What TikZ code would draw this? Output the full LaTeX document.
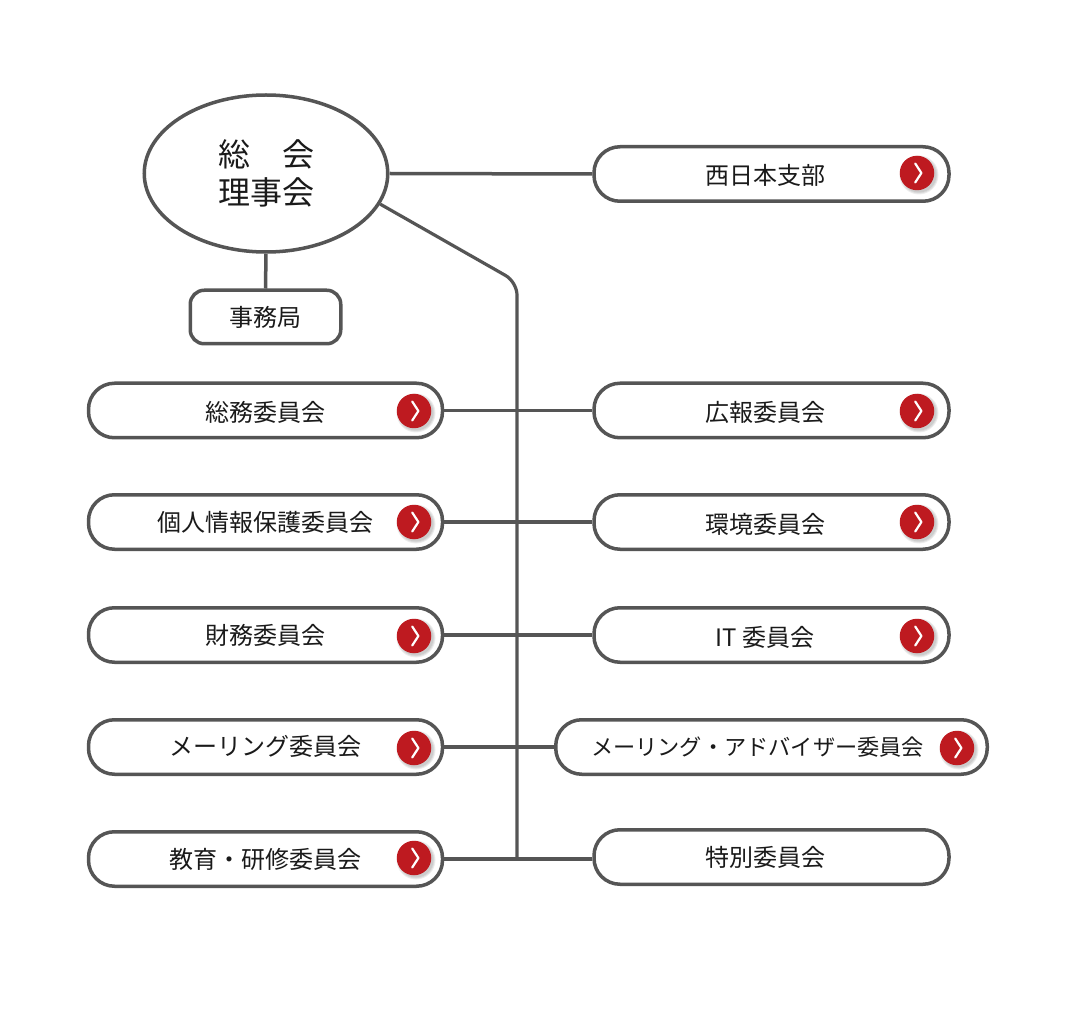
\documentclass[tikz,border=0pt]{standalone}
\usepackage{fontspec}
\setmainfont{Noto Sans CJK JP}
\definecolor{linegray}{HTML}{555555}
\definecolor{btnred}{HTML}{BE1A20}
\definecolor{txt}{HTML}{1A1A1A}
\tikzset{
  pill/.style={draw=linegray,line width=3.5pt,fill=white,rounded corners=26pt,minimum height=54.5pt,minimum width=354pt,inner sep=0pt,text=txt,font=\fontsize{24}{28}\selectfont},
  rpill/.style={pill,minimum width=355pt},
  office/.style={draw=linegray,line width=3.5pt,fill=white,rounded corners=14pt,minimum height=53.5pt,minimum width=150.5pt,inner sep=0pt,text=txt,font=\fontsize{24}{28}\selectfont},
  rootnode/.style={ellipse,draw=linegray,line width=3.5pt,fill=white,minimum width=243.5pt,minimum height=157pt,inner sep=0pt,align=center,text=txt,font=\fontsize{32}{36}\selectfont},
  conn/.style={draw=linegray,line width=3.5pt},
  trunk/.style={draw=linegray,line width=3.2pt,rounded corners=13pt},
  btn/.style={circle,fill=btnred,minimum size=34.5pt,inner sep=0pt},
  chev/.style={draw=white,line width=2.2pt,line cap=round,line join=round},
  shade1/.style={circle,fill=black,fill opacity=0.07,minimum size=#1,inner sep=0pt}
}
\usetikzlibrary{shapes.geometric}
\newcommand{\moved}[3]{\hspace*{#1}\raisebox{#2}[\height][\depth]{#3}}
\newcommand{\redbtn}[3]{%
  \node[shade1=39pt] (#1s1) at (#2+2,#3+2) {};
  \node[shade1=37pt] (#1s2) at (#2+2,#3+2) {};
  \node[shade1=35pt] (#1s3) at (#2+2,#3+2) {};
  \node[btn] (#1) at (#2,#3) {};
  \draw[chev] ([shift={(-1.8,-9.5)}]#1.center) -- ([shift={(4.4,0)}]#1.center) -- ([shift={(-1.8,9.5)}]#1.center);
}
\begin{document}
\begin{tikzpicture}[x=1pt,y=-1pt]
\useasboundingbox[fill=white] (0,0) rectangle (1080,1024);
% nodes
\node[rootnode] (root) at (266,173.5) {総　会\\[2pt]理事会};
\node[office] (jim) at (265.5,317) {事務局};
\node[pill] (l1) at (265.5,410.5) {\moved{0pt}{-2pt}{総務委員会}};
\node[pill] (l2) at (265.5,522) {個人情報保護委員会};
\node[pill] (l3) at (265.5,635) {財務委員会};
\node[pill] (l4) at (265.5,747) {\moved{0pt}{1pt}{メーリング委員会}};
\node[pill] (l5) at (265.5,859) {教育・研修委員会};
\node[rpill] (r0) at (771.5,174) {\moved{-13pt}{-1.5pt}{西日本支部}};
\node[rpill] (r1) at (771.5,410.5) {\moved{-13pt}{-2pt}{広報委員会}};
\node[rpill] (r2) at (771.5,522) {\moved{-13pt}{-2pt}{環境委員会}};
\node[rpill] (r3) at (771.5,635) {\moved{-13pt}{-2.5pt}{IT 委員会}};
\node[pill,minimum width=431.5pt,font=\fontsize{22.2}{26}\selectfont] (r4) at (771.5,747) {\moved{-28pt}{0pt}{メーリング・アドバイザー委員会}};
\node[rpill] (r5) at (771.5,857) {\moved{-13pt}{0pt}{特別委員会}};
% junction coordinates
\coordinate (bend) at (517,282);
\coordinate (foot) at (517,859);
% connectors
\draw[conn] (root.east) -- (r0.west);
\draw[conn] (root.south) -- (jim.north);
\draw[trunk] (root.-15.4) -- (bend) -- (foot);
\draw[conn] (l1.east) -- (r1.west);
\draw[conn] (l2.east) -- (r2.west);
\draw[conn] (l3.east) -- (r3.west);
\draw[conn] (l4.east) -- (r4.west);
\draw[conn] (l5.east) -- (l5.east -| r5.west);
% buttons
\redbtn{b0}{917}{173}
\redbtn{b1}{917}{411}
\redbtn{b2}{917}{522}
\redbtn{b3}{917}{636}
\redbtn{b4}{957}{748}
\redbtn{c1}{414}{411}
\redbtn{c2}{414}{522}
\redbtn{c3}{414}{636}
\redbtn{c4}{414}{748}
\redbtn{c5}{414}{858}
\end{tikzpicture}
\end{document}
